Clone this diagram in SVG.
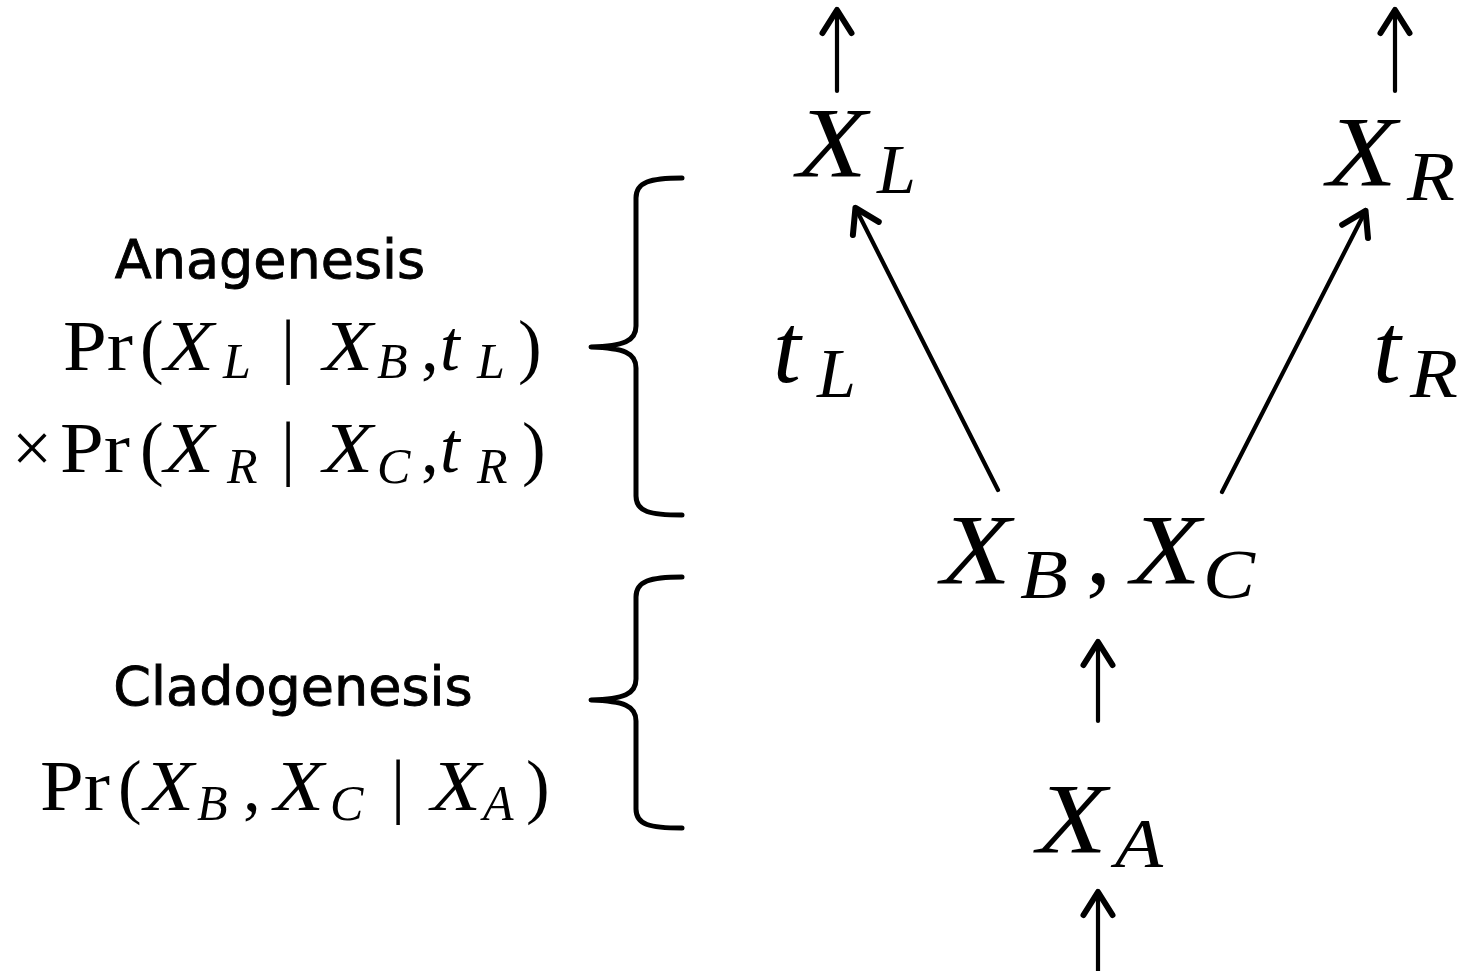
<svg xmlns="http://www.w3.org/2000/svg" width="1473" height="971" viewBox="0 0 1473 971">
<style>
.m{font-family:"Liberation Serif","Times New Roman",serif;font-style:italic;fill:#000}
.r{font-family:"Liberation Serif","Times New Roman",serif;font-style:normal;fill:#000}
.big{font-size:100px}
.bs{font-size:70px}
.sm{font-size:71px}
.ss{font-size:50px}
.lbl{font-family:"DejaVu Sans",sans-serif;font-size:54px;fill:#000;stroke:#000;stroke-width:0.9px;text-anchor:middle}
.conn{stroke:#000;stroke-width:4.2;fill:none;stroke-linecap:round}
.brace{stroke:#000;stroke-width:5;fill:none;stroke-linecap:round;stroke-linejoin:round}
</style>
<defs>
<marker id="ah" markerUnits="userSpaceOnUse" markerWidth="60" markerHeight="60" viewBox="-40 -30 60 60" refX="0" refY="0" orient="auto" overflow="visible">
<path d="M-24,-14.5 L-1,0 L-24,14.5" fill="none" stroke="#000" stroke-width="6" stroke-linecap="round" stroke-linejoin="round"/>
</marker>
</defs>

<g id="connectors">
<line class="conn" x1="837" y1="91" x2="837" y2="9" marker-end="url(#ah)"/>
<line class="conn" x1="1395" y1="91" x2="1395" y2="9" marker-end="url(#ah)"/>
<line class="conn" x1="998" y1="490" x2="855" y2="207" marker-end="url(#ah)"/>
<line class="conn" x1="1222" y1="492" x2="1366" y2="210" marker-end="url(#ah)"/>
<line class="conn" x1="1098" y1="721" x2="1098" y2="641" marker-end="url(#ah)"/>
<line class="conn" x1="1098" y1="971" x2="1098" y2="891" marker-end="url(#ah)"/>
</g>

<g id="node-XL">
<text class="m big" x="797" y="176" textLength="70" lengthAdjust="spacingAndGlyphs">X</text>
<text class="m bs" x="877" y="193">L</text>
</g>
<g id="node-XR">
<text class="m big" x="1327" y="185" textLength="70" lengthAdjust="spacingAndGlyphs">X</text>
<text class="m bs" x="1407" y="200" textLength="48" lengthAdjust="spacingAndGlyphs">R</text>
</g>
<g id="label-tL">
<text class="m big" x="773" y="382">t</text>
<text class="m bs" x="817" y="397">L</text>
</g>
<g id="label-tR">
<text class="m big" x="1373" y="382">t</text>
<text class="m bs" x="1410" y="397" textLength="48" lengthAdjust="spacingAndGlyphs">R</text>
</g>
<g id="node-XBXC">
<text class="m big" x="941" y="583" textLength="70" lengthAdjust="spacingAndGlyphs">X</text>
<text class="m bs" x="1020" y="598" textLength="48" lengthAdjust="spacingAndGlyphs">B</text>
<text class="r big" x="1086" y="583">,</text>
<text class="m big" x="1131" y="583" textLength="70" lengthAdjust="spacingAndGlyphs">X</text>
<text class="m bs" x="1203" y="598" textLength="52" lengthAdjust="spacingAndGlyphs">C</text>
</g>
<g id="node-XA">
<text class="m big" x="1037" y="852" textLength="70" lengthAdjust="spacingAndGlyphs">X</text>
<text class="m bs" x="1115" y="867" textLength="48" lengthAdjust="spacingAndGlyphs">A</text>
</g>

<g id="brace-anagenesis">
<path class="brace" d="M682,178 C650,178 636,182 636,198 L636,326 C636,341 624,346 591,347 C624,348 636,353 636,368 L636,496 C636,512 650,515 682,515"/>
</g>
<g id="brace-cladogenesis">
<path class="brace" d="M682,577 C650,577 636,581 636,597 L636,679 C636,694 624,699 591,700 C624,701 636,706 636,721 L636,809 C636,825 650,828 682,828"/>
</g>

<g id="anagenesis">
<text class="lbl" x="270" y="278">Anagenesis</text>
<text class="r sm" x="63" y="370" textLength="70" lengthAdjust="spacingAndGlyphs">Pr</text>
<text class="r sm" x="140" y="370">(</text>
<text class="m sm" x="164" y="370" textLength="50" lengthAdjust="spacingAndGlyphs">X</text>
<text class="m ss" x="223" y="378">L</text>
<text class="r sm" x="281" y="370">|</text>
<text class="m sm" x="323" y="370" textLength="50" lengthAdjust="spacingAndGlyphs">X</text>
<text class="m ss" x="377" y="378">B</text>
<text class="r sm" x="421" y="370">,</text>
<text class="m sm" x="440" y="370">t</text>
<text class="m ss" x="477" y="378">L</text>
<text class="r sm" x="518" y="370">)</text>

<text class="r sm" x="12" y="472">×</text>
<text class="r sm" x="60" y="472" textLength="70" lengthAdjust="spacingAndGlyphs">Pr</text>
<text class="r sm" x="140" y="472">(</text>
<text class="m sm" x="164" y="472" textLength="50" lengthAdjust="spacingAndGlyphs">X</text>
<text class="m ss" x="227" y="483">R</text>
<text class="r sm" x="281" y="472">|</text>
<text class="m sm" x="323" y="472" textLength="50" lengthAdjust="spacingAndGlyphs">X</text>
<text class="m ss" x="377" y="483">C</text>
<text class="r sm" x="421" y="472">,</text>
<text class="m sm" x="440" y="472">t</text>
<text class="m ss" x="477" y="483">R</text>
<text class="r sm" x="522" y="472">)</text>
</g>

<g id="cladogenesis">
<text class="lbl" x="293" y="705">Cladogenesis</text>
<text class="r sm" x="40" y="810" textLength="70" lengthAdjust="spacingAndGlyphs">Pr</text>
<text class="r sm" x="118" y="810">(</text>
<text class="m sm" x="144" y="810" textLength="50" lengthAdjust="spacingAndGlyphs">X</text>
<text class="m ss" x="197" y="820">B</text>
<text class="r sm" x="243" y="810">,</text>
<text class="m sm" x="274" y="810" textLength="50" lengthAdjust="spacingAndGlyphs">X</text>
<text class="m ss" x="330" y="820">C</text>
<text class="r sm" x="391" y="810">|</text>
<text class="m sm" x="431" y="810" textLength="50" lengthAdjust="spacingAndGlyphs">X</text>
<text class="m ss" x="483" y="820">A</text>
<text class="r sm" x="526" y="810">)</text>
</g>
</svg>
